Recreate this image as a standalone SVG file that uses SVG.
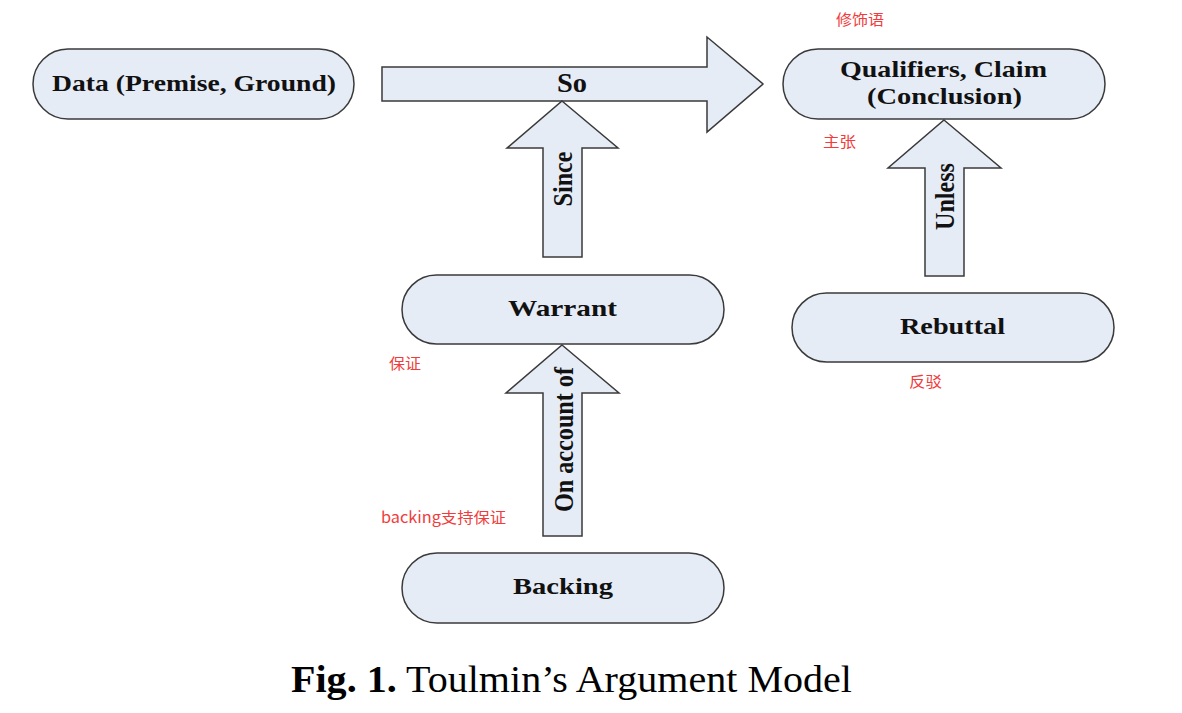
<svg xmlns="http://www.w3.org/2000/svg" width="1182" height="713" viewBox="0 0 1182 713">
<style>
.node{fill:#e6ecf6;stroke:#3a3a3a;stroke-width:1.5}
.arrow{fill:#e6ecf6;stroke:#3a3a3a;stroke-width:1.5;stroke-linejoin:miter}
.lbl{font-family:"Liberation Serif","Times New Roman",serif;font-weight:bold;fill:#111;font-size:23px}
.vlbl{font-family:"Liberation Serif","Times New Roman",serif;font-weight:bold;fill:#111;font-size:27px}
.note{font-family:"Noto Sans CJK SC","Microsoft YaHei",sans-serif;fill:#f03c3c;font-size:15px}
.cap{font-family:"Liberation Serif","Times New Roman",serif;fill:#000;font-size:38px}
</style>
<rect width="1182" height="713" fill="#fff"/>
<g id="connectors">
  <g id="arrow-so">
    <polygon class="arrow" points="382,67 707,67 707,37 763,84 707,132 707,101 382,101"/>
    <text class="vlbl" x="572" y="92" text-anchor="middle" font-size="26" textLength="30" lengthAdjust="spacingAndGlyphs">So</text>
  </g>
  <g id="arrow-since">
    <polygon class="arrow" points="562,101 618,148 582,148 582,257 543,257 543,148 507,148"/>
    <text class="vlbl" transform="translate(572,179) rotate(-90)" x="0" y="0" text-anchor="middle" textLength="55" lengthAdjust="spacingAndGlyphs">Since</text>
  </g>
  <g id="arrow-onaccount">
    <polygon class="arrow" points="562,345 619,393 582,393 582,536 543,536 543,393 506,393"/>
    <text class="vlbl" transform="translate(573,439.500) rotate(-90)" x="0" y="0" text-anchor="middle" textLength="145" lengthAdjust="spacingAndGlyphs">On account of</text>
  </g>
  <g id="arrow-unless">
    <polygon class="arrow" points="944,120 1001,168 964,168 964,276 925,276 925,168 888,168"/>
    <text class="vlbl" transform="translate(954,196.500) rotate(-90)" x="0" y="0" text-anchor="middle" textLength="67" lengthAdjust="spacingAndGlyphs">Unless</text>
  </g>
</g>
<g id="node-data">
  <rect class="node" x="33" y="49" width="321" height="70" rx="35" ry="35"/>
  <text class="lbl" x="194" y="91" text-anchor="middle" textLength="284" lengthAdjust="spacingAndGlyphs">Data (Premise, Ground)</text>
</g>
<g id="node-claim">
  <rect class="node" x="783" y="49" width="322" height="70" rx="35" ry="35"/>
  <text class="lbl" x="943.500" y="77" text-anchor="middle" textLength="207" lengthAdjust="spacingAndGlyphs">Qualifiers, Claim</text>
  <text class="lbl" x="944.500" y="104" text-anchor="middle" textLength="155" lengthAdjust="spacingAndGlyphs">(Conclusion)</text>
</g>
<g id="node-warrant">
  <rect class="node" x="402" y="275" width="322" height="69" rx="34.500" ry="34.500"/>
  <text class="lbl" x="562.500" y="316" text-anchor="middle" textLength="109" lengthAdjust="spacingAndGlyphs">Warrant</text>
</g>
<g id="node-backing">
  <rect class="node" x="402" y="553" width="322" height="70" rx="35" ry="35"/>
  <text class="lbl" x="563" y="594" text-anchor="middle" textLength="100" lengthAdjust="spacingAndGlyphs">Backing</text>
</g>
<g id="node-rebuttal">
  <rect class="node" x="792" y="293" width="322" height="69" rx="34.500" ry="34.500"/>
  <text class="lbl" x="952.500" y="334" text-anchor="middle" textLength="105" lengthAdjust="spacingAndGlyphs">Rebuttal</text>
</g>
<g id="annotations">
  <text class="note" x="836" y="25" textLength="48" lengthAdjust="spacingAndGlyphs">修饰语</text>
  <text class="note" x="823" y="147" textLength="33" lengthAdjust="spacingAndGlyphs">主张</text>
  <text class="note" x="389" y="369" textLength="32" lengthAdjust="spacingAndGlyphs">保证</text>
  <text class="note" x="381" y="523" textLength="125" lengthAdjust="spacingAndGlyphs">backing支持保证</text>
  <text class="note" x="909" y="387" textLength="33" lengthAdjust="spacingAndGlyphs">反驳</text>
</g>
<g id="caption">
  <text class="cap" x="291" y="692" textLength="561" lengthAdjust="spacingAndGlyphs"><tspan font-weight="bold">Fig. 1.</tspan> Toulmin’s Argument Model</text>
</g>
</svg>
